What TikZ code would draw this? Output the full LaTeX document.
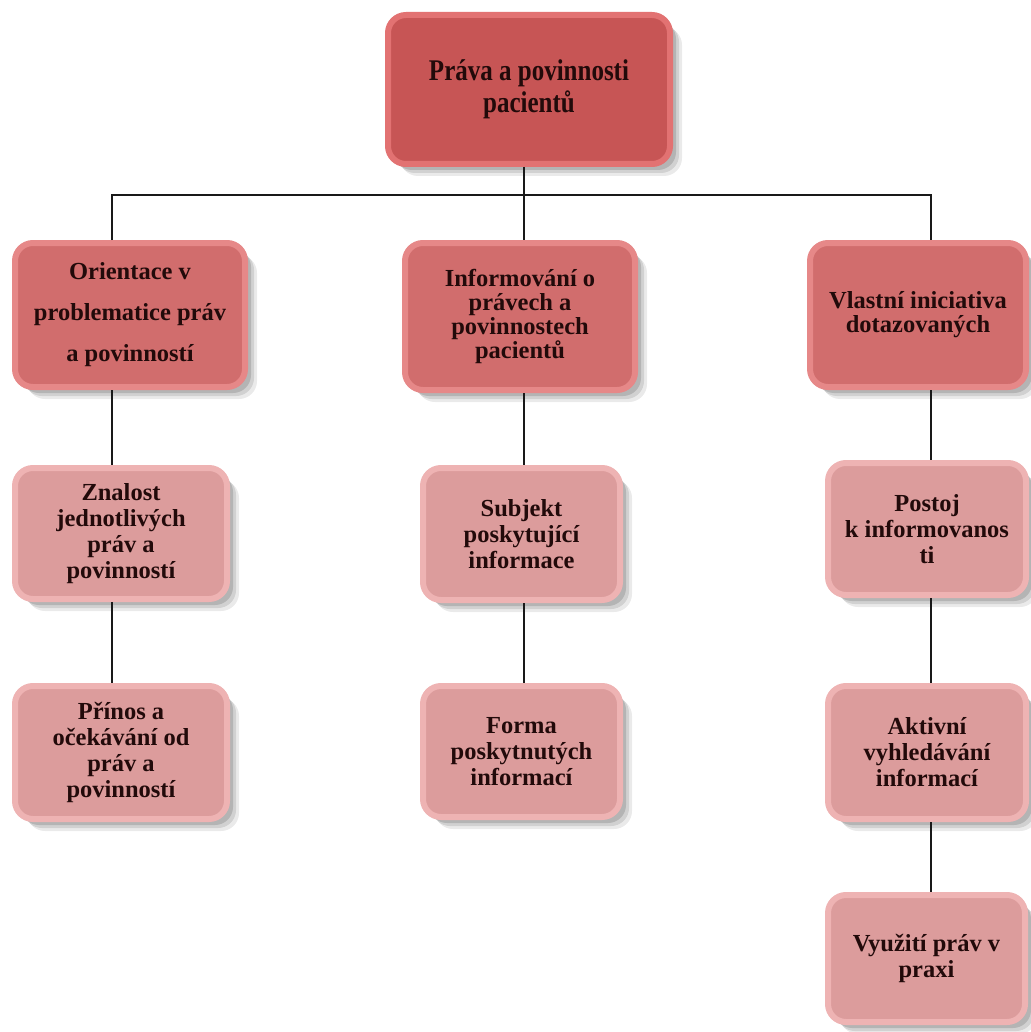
\documentclass[tikz,border=0pt]{standalone}
\usepackage{fontspec}
\setmainfont{Liberation Serif}
\usetikzlibrary{shadows}
\definecolor{topfill}{HTML}{C75555}
\definecolor{toprim}{HTML}{E27272}
\definecolor{midfill}{HTML}{D16D6D}
\definecolor{midrim}{HTML}{E68888}
\definecolor{lowfill}{HTML}{DC9C9C}
\definecolor{lowrim}{HTML}{EEB3B3}
\definecolor{txt}{HTML}{220A0A}
\tikzset{
  softshadow/.style={
    drop shadow={shadow xshift=12pt,shadow yshift=-12pt,opacity=0.10,fill=black!80},
    drop shadow={shadow xshift=9pt,shadow yshift=-9pt,opacity=0.14,fill=black!80},
    drop shadow={shadow xshift=6pt,shadow yshift=-6pt,opacity=0.18,fill=black!80}},
  box/.style={rounded corners=18pt, softshadow, align=center, text=txt,
    inner sep=0pt, line width=6pt,
    font=\bfseries\fontsize{24.5}{26}\selectfont},
  topbox/.style={box, fill=topfill, draw=toprim,
    font=\bfseries\fontsize{25}{32}\selectfont},
  midbox/.style={box, fill=midfill, draw=midrim},
  lowbox/.style={box, fill=lowfill, draw=lowrim},
  conn/.style={draw=black!90, line width=1.4pt},
}
\begin{document}
\begin{tikzpicture}[x=1pt,y=-1pt]
\useasboundingbox (0,0) rectangle (1030,1032);
% nodes
\node[topbox, minimum width=282pt, minimum height=149pt] (top) at (529,89.5)
  {\scalebox{1}[1.2]{Práva a povinnosti}\\\scalebox{1}[1.2]{pacientů}};

\node[midbox, minimum width=230pt, minimum height=144pt,
  font=\bfseries\fontsize{24.5}{41}\selectfont] (l2a) at (130,315)
  {Orientace v\\problematice práv\\a povinností};
\node[midbox, minimum width=230pt, minimum height=147pt,
  font=\bfseries\fontsize{24.5}{24}\selectfont] (l2b) at (520,316.5)
  {Informování o\\právech a\\povinnostech\\pacientů};
\node[midbox, minimum width=216pt, minimum height=144pt,
  font=\bfseries\fontsize{24.5}{24}\selectfont] (l2c) at (918,315)
  {Vlastní iniciativa\\dotazovaných};

\node[lowbox, minimum width=212pt, minimum height=131pt] (l3a) at (121,533.5)
  {Znalost\\jednotlivých\\práv a\\povinností};
\node[lowbox, minimum width=197pt, minimum height=132pt] (l3b) at (521.5,534)
  {Subjekt\\poskytující\\informace};
\node[lowbox, minimum width=198pt, minimum height=132pt] (l3c) at (927,529)
  {Postoj\\k informovanos\\ti};

\node[lowbox, minimum width=212pt, minimum height=133pt] (l4a) at (121,752.5)
  {Přínos a\\očekávání od\\práv a\\povinností};
\node[lowbox, minimum width=197pt, minimum height=131pt] (l4b) at (521.5,751.5)
  {Forma\\poskytnutých\\informací};
\node[lowbox, minimum width=198pt, minimum height=133pt] (l4c) at (927,752.5)
  {Aktivní\\vyhledávání\\informací};

\node[lowbox, minimum width=197pt, minimum height=127pt] (l5c) at (926.5,958.5)
  {Využití práv v\\praxi};

% junction coordinates
\coordinate (jt) at (524,195);
\coordinate (jl) at (112,195);
\coordinate (jr) at (931,195);

% connectors
\draw[conn] (top.south -| jt) -- (jt);
\draw[conn] (l2a.north -| jl) -- (jl) -- (jr) -- (l2c.north -| jr);
\draw[conn] (jt) -- (l2b.north -| jt);

\draw[conn] (l2a.south -| jl) -- (l3a.north -| jl);
\draw[conn] (l3a.south -| jl) -- (l4a.north -| jl);

\draw[conn] (l2b.south -| jt) -- (l3b.north -| jt);
\draw[conn] (l3b.south -| jt) -- (l4b.north -| jt);

\draw[conn] (l2c.south -| jr) -- (l3c.north -| jr);
\draw[conn] (l3c.south -| jr) -- (l4c.north -| jr);
\draw[conn] (l4c.south -| jr) -- (l5c.north -| jr);
\end{tikzpicture}
\end{document}
